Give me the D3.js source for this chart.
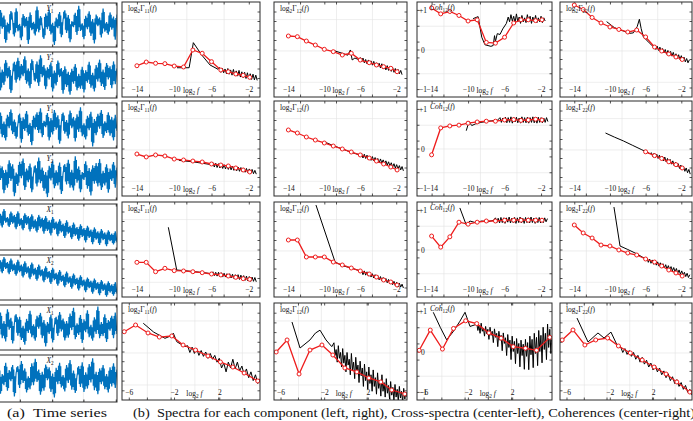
<!DOCTYPE html>
<html>
<head>
<meta charset="utf-8">
<script src="https://cdn.jsdelivr.net/npm/d3@7"></script>
<style>
body { margin: 0; background: #fff; }
svg { display: block; }
text { font-family: "Liberation Serif", "DejaVu Serif", serif; fill: #111; }
</style>
</head>
<body>
<div id="vis-container"></div>
<script>

const width = 693,
    height = 421;

// ---- time series (a) ----
const tsLabels = [["Y","1"],["Y","2"],["Y","1"],["Y","2"],["X","1"],["X","2"],["X","1"],["X","2"]];
const ts1 = [0.3,-0.62,0.71,-0.18,0.45,-0.85,0.12,-0.4,0.66,0.2,-0.55,0.8,-0.3,0.05,-0.72,0.52,-0.12,0.38,-0.9,0.6,-0.25,0.15,-0.5,0.88,-0.35,0.42,-0.08,-0.66,0.55,-0.2,0.74,-0.45,0.1,-0.95,0.35,-0.15,0.62,-0.58,0.25,0.7,-0.38,0.48,-0.82,0.18,-0.1,0.58,-0.48,0.92,-0.28,0.08,-0.68,0.44,-0.2,0.65,-0.52,0.28,-0.88,0.5,-0.05,0.36,-0.6,0.78,-0.32,0.14,-0.46,0.6,-0.22,0.4,-0.7,0.5];
const ts2 = [-0.2,0.55,-0.7,0.25,-0.45,0.68,-0.15,0.4,-0.82,0.1,0.6,-0.35,0.78,-0.25,0.5,-0.05,0.85,-0.4,0.3,-0.6,0.72,0.15,-0.3,0.62,-0.5,0.9,-0.1,0.45,-0.65,0.35,-0.2,0.58,-0.75,0.2,-0.48,0.66,-0.1,0.32,-0.85,0.4,-0.55,0.15,-0.9,0.28,-0.4,0.5,-0.7,0.05,-0.62,0.38,-0.8,0.22,-0.35,0.6,-0.58,0.1,-0.75,0.45,-0.3,0.7,-0.5,0.25,-0.68,0.55,-0.2,0.4,-0.6,0.62,-0.42,0.3];
const ts3 = [0.42,-0.3,0.6,-0.55,0.18,-0.7,0.5,-0.12,0.75,-0.4,0.28,-0.62,0.05,0.55,-0.8,0.38,-0.25,0.68,-0.48,0.12,-0.92,0.45,-0.18,0.62,-0.35,0.8,-0.55,0.22,-0.08,0.58,-0.7,0.35,-0.42,0.72,-0.2,0.48,-0.85,0.15,0.6,-0.38,0.25,-0.6,0.7,-0.12,0.4,-0.75,0.52,-0.3,0.85,-0.5,0.1,-0.65,0.45,-0.22,0.64,-0.98,0.3,-0.45,0.55,-0.15,0.72,-0.58,0.2,-0.35,0.62,-0.48,0.4,-0.7,0.5,-0.25];
const ts4 = [-0.35,0.6,-0.15,0.45,-0.75,0.3,-0.5,0.72,-0.2,0.55,-0.88,0.18,-0.42,0.66,-0.08,0.8,-0.6,0.35,-0.25,0.58,-0.7,0.12,0.5,-0.45,0.85,-0.3,0.4,-0.65,0.2,-0.92,0.48,-0.18,0.7,-0.52,0.28,-0.4,0.62,-0.78,0.15,0.55,-0.35,0.75,-0.5,0.3,-0.62,0.9,-0.28,0.45,-0.7,0.2,-0.15,0.68,-0.55,0.38,-0.85,0.5,-0.32,0.6,-0.45,0.78,-0.6,0.25,-0.4,0.55,-0.72,0.35,-0.2,0.65,-0.5,0.4];
const ts5 = [0.75,0.1,0.6,-0.02,0.82,0.2,0.45,0.0,0.7,0.15,0.55,-0.1,0.72,0.05,0.4,-0.15,0.62,0.1,0.5,-0.2,0.58,-0.08,0.35,-0.25,0.55,-0.05,0.42,-0.3,0.5,-0.18,0.3,-0.38,0.45,-0.12,0.25,-0.42,0.35,-0.25,0.15,-0.5,0.3,-0.3,0.05,-0.55,0.2,-0.4,0.0,-0.62,0.12,-0.45,-0.05,-0.7,0.05,-0.5,-0.12,-0.78,-0.02,-0.58,-0.2,-0.82,-0.1,-0.6,-0.25,-0.88,-0.15,-0.65,-0.3,-0.8,-0.2,-0.7];
const ts6 = [1.0,0.35,0.8,0.2,0.95,0.4,0.72,0.15,0.88,0.3,0.65,0.08,0.82,0.25,0.6,0.0,0.75,0.18,0.52,-0.08,0.7,0.1,0.45,-0.15,0.6,0.05,0.38,-0.22,0.52,-0.05,0.3,-0.3,0.45,-0.12,0.22,-0.38,0.35,-0.2,0.12,-0.45,0.28,-0.28,0.05,-0.52,0.18,-0.35,-0.02,-0.6,0.1,-0.42,-0.1,-0.68,0.0,-0.5,-0.15,-0.75,-0.05,-0.58,-0.22,-0.82,-0.12,-0.62,-0.28,-0.9,-0.18,-0.7,-0.32,-0.85,-0.22,-0.75];
const ts7 = [0.55,-0.2,0.7,-0.5,0.3,-0.65,0.85,-0.1,0.45,-0.75,0.2,0.62,-0.38,0.5,-0.58,0.08,-0.8,0.4,-0.25,0.78,-0.45,0.15,-0.62,0.55,-0.05,0.68,-0.5,0.35,-0.88,0.25,-0.3,0.6,-0.7,0.1,0.5,-0.4,0.72,-0.18,0.42,-0.6,0.3,-0.48,0.65,-0.12,0.92,-0.55,0.2,-0.35,0.58,-0.72,0.38,-0.22,0.8,-0.45,0.12,-0.62,0.48,-0.3,0.98,-0.5,0.25,-0.4,0.62,-0.68,0.35,-0.15,0.55,-0.5,0.7,-0.3];
const ts8 = [-0.4,0.52,-0.68,0.2,-0.3,0.7,-0.55,0.38,-0.12,0.6,-0.8,0.25,0.55,-0.42,0.78,-0.2,0.45,-0.62,0.1,-0.48,0.68,-0.3,0.88,-0.15,0.4,-0.72,0.3,-0.55,0.62,-0.08,0.5,-0.6,0.22,-0.85,0.48,-0.25,0.7,-0.4,0.15,-0.58,0.6,-0.2,0.82,-0.5,0.35,-0.65,0.12,0.55,-0.38,0.72,-0.6,0.28,-0.45,0.65,-0.18,0.9,-0.52,0.3,-0.7,0.45,-0.25,0.6,-0.48,0.2,-0.62,0.5,-0.35,0.68,-0.42,0.4];
const tsGrid = [0.19, 0.46, 0.72];

// ---- spectra (b) ----
// log2 f axis, rows 1-3 and row 4
const redXA = [-14,-13,-12,-11,-10,-9,-8,-7,-6,-5,-4.2,-3.4,-2.6,-1.9];
const redXB = [-6.4,-5.4,-4.3,-3.3,-2.2,-1.2,-0.1,1.0,2.1,3.2,4.2,5.4];
const tickLabA = [-14,-10,-6,-2];
const gridXA = [-12.7,-8.7,-4.7];
const tickLabB = [-6,-2,2];
const gridXB = [-4.4,-2.3,-0.2,1.9,4.0];
const gridYLog = [1.6,4.9,8.2];
const gridYCoh = [-0.6,0,0.6];
const cohLabels = [1,0,-1];

// row 1
const r1c1Red = [3.29,3.68,3.55,3.51,3.26,3.16,4.95,4.6,3.72,2.84,2.66,2.42,2.28,2.07];
const r1c1Black = [[-9.7,3.08],[-8.4,3.08],[-7.95,5.72],[-7.05,4.42],[-6.16,3.37],[-5.3,2.92],[-5.15,3.1],[-5.0,2.6],[-4.85,3.05],[-4.7,2.55],[-4.55,2.95],[-4.4,2.45],[-4.25,3.0],[-4.1,2.4],[-3.95,2.85],[-3.8,2.3],[-3.65,2.9],[-3.5,2.25],[-3.35,2.75],[-3.2,2.2],[-3.05,2.8],[-2.9,2.1],[-2.75,2.65],[-2.6,2.05],[-2.45,2.6],[-2.3,1.95],[-2.15,2.55],[-2.0,1.9],[-1.85,2.45],[-1.7,1.85],[-1.55,2.4],[-1.4,1.8],[-1.25,2.3],[-1.1,1.75]];
const r1c2Red = [6.42,6.35,5.89,5.47,5.02,4.77,4.42,4.6,3.89,3.61,3.37,3.19,3.02,2.66];
const r1c2Black = [[-9.0,4.9],[-8.0,4.6],[-7.4,4.4],[-7.1,4.95],[-6.9,3.9],[-6.6,4.1],[-6.2,3.95],[-6.0,4.15],[-5.85,3.7],[-5.7,4.1],[-5.55,3.6],[-5.4,3.95],[-5.25,3.5],[-5.1,3.9],[-4.95,3.45],[-4.8,3.8],[-4.65,3.35],[-4.5,3.75],[-4.35,3.25],[-4.2,3.6],[-4.05,3.2],[-3.9,3.55],[-3.75,3.05],[-3.6,3.5],[-3.45,2.95],[-3.3,3.35],[-3.15,2.85],[-3.0,3.3],[-2.85,2.8],[-2.7,3.2],[-2.55,2.7],[-2.4,3.1],[-2.25,2.6],[-2.1,3.0],[-1.95,2.5],[-1.8,2.9],[-1.65,2.45],[-1.5,2.8],[-1.35,2.35]];
const r1c3Red = [1.05,0.9,0.96,0.86,0.72,0.75,0.18,0.16,0.31,0.67,0.75,0.75,0.73,0.75];
const r1c3Black = [[-9.45,0.78],[-8.9,0.83],[-8.5,0.31],[-8.15,0.12],[-7.5,0.08],[-7.25,0.1],[-7.1,0.35],[-7.0,0.2],[-6.8,0.4],[-6.5,0.38],[-6.2,0.52],[-5.8,0.66],[-5.6,0.82],[-5.45,0.7],[-5.3,0.88],[-5.15,0.72],[-5.0,0.84],[-4.85,0.68],[-4.7,0.9],[-4.55,0.7],[-4.4,0.82],[-4.25,0.66],[-4.1,0.86],[-3.95,0.7],[-3.8,0.8],[-3.65,0.68],[-3.5,0.88],[-3.35,0.72],[-3.2,0.84],[-3.05,0.66],[-2.9,0.82],[-2.75,0.7],[-2.6,0.86],[-2.45,0.68],[-2.3,0.8],[-2.15,0.7],[-2.0,0.84],[-1.85,0.68],[-1.7,0.8],[-1.55,0.72]];
const r1c4Red = [9.68,9.21,8.37,7.79,7.37,7.11,6.84,7.05,6.32,5.26,4.84,4.53,4.21,3.95];
const r1c4Black = [[-10.37,7.93],[-9.5,7.3],[-8.5,6.95],[-7.8,6.7],[-7.38,6.75],[-6.95,7.4],[-6.7,8.18],[-6.5,7.2],[-6.26,6.35],[-5.6,5.7],[-5.14,5.3],[-5.0,5.45],[-4.85,5.0],[-4.7,5.35],[-4.55,4.9],[-4.4,5.25],[-4.25,4.75],[-4.1,5.1],[-3.95,4.65],[-3.8,5.0],[-3.65,4.5],[-3.5,4.9],[-3.35,4.4],[-3.2,4.8],[-3.05,4.3],[-2.9,4.7],[-2.75,4.2],[-2.6,4.55],[-2.45,4.05],[-2.3,4.45],[-2.15,3.95],[-2.0,4.35],[-1.85,3.85],[-1.7,4.2],[-1.55,3.7],[-1.4,4.05],[-1.25,3.6],[-1.1,3.9]];

// row 2
const r2c1Red = [4.42,4.11,4.32,4.21,3.89,3.79,3.68,3.58,3.37,3.26,3.16,2.95,2.74,2.53];
const r2c1Black = [[-9.5,3.75],[-8,3.6],[-7,3.45],[-6,3.3],[-5.85,3.5],[-5.7,3.05],[-5.55,3.45],[-5.4,3.0],[-5.25,3.4],[-5.1,2.95],[-4.95,3.35],[-4.8,2.9],[-4.65,3.3],[-4.5,2.85],[-4.35,3.25],[-4.2,2.8],[-4.05,3.2],[-3.9,2.75],[-3.75,3.15],[-3.6,2.7],[-3.45,3.1],[-3.3,2.65],[-3.15,3.05],[-3.0,2.6],[-2.85,3.0],[-2.7,2.55],[-2.55,2.95],[-2.4,2.5],[-2.25,2.9],[-2.1,2.45],[-1.95,2.85],[-1.8,2.4],[-1.65,2.8],[-1.5,2.35],[-1.35,2.7],[-1.2,2.3]];
const r2c2Red = [6.95,6.63,6.21,5.89,5.58,5.26,4.95,4.63,4.32,4.0,3.68,3.37,3.05,2.74];
const r2c2Black = [[-10,5.7],[-9,5.3],[-8,4.95],[-7,4.6],[-6,4.3],[-5.85,4.45],[-5.7,4.0],[-5.55,4.4],[-5.4,3.95],[-5.25,4.3],[-5.1,3.85],[-4.95,4.2],[-4.8,3.75],[-4.65,4.15],[-4.5,3.7],[-4.35,4.05],[-4.2,3.6],[-4.05,3.95],[-3.9,3.5],[-3.75,3.9],[-3.6,3.45],[-3.45,3.8],[-3.3,3.35],[-3.15,3.7],[-3.0,3.25],[-2.85,3.6],[-2.7,3.15],[-2.55,3.5],[-2.4,3.05],[-2.25,3.4],[-2.1,2.95],[-1.95,3.3],[-1.8,2.85],[-1.65,3.2],[-1.5,2.75],[-1.35,3.1],[-1.2,2.65]];
const r2c3Red = [-0.16,0.52,0.57,0.59,0.64,0.67,0.69,0.69,0.72,0.73,0.71,0.72,0.74,0.72];
const r2c3Black = [[-10.2,0.45],[-9.9,0.68],[-9.6,0.58],[-9.2,0.62],[-8.6,0.66],[-8,0.68],[-7.4,0.7],[-6.8,0.71],[-6.5,0.78],[-6.35,0.66],[-6.2,0.77],[-6.05,0.67],[-5.9,0.79],[-5.75,0.65],[-5.6,0.78],[-5.45,0.66],[-5.3,0.8],[-5.15,0.64],[-5.0,0.78],[-4.85,0.67],[-4.7,0.79],[-4.55,0.65],[-4.4,0.77],[-4.25,0.64],[-4.1,0.8],[-3.95,0.66],[-3.8,0.78],[-3.65,0.65],[-3.5,0.79],[-3.35,0.64],[-3.2,0.78],[-3.05,0.66],[-2.9,0.8],[-2.75,0.65],[-2.6,0.77],[-2.45,0.64],[-2.3,0.79],[-2.15,0.66],[-2.0,0.78],[-1.85,0.65],[-1.7,0.77],[-1.55,0.66],[-1.4,0.78],[-1.25,0.68]];
const r2c4Red = [null,null,null,null,null,null,null,null,4.65,4.25,3.95,3.6,3.3,2.95];
const r2c4Black = [[-10.5,6.63],[-9.5,6.2],[-8.5,5.8],[-7.5,5.35],[-6.5,4.9],[-5.5,4.45],[-5.35,4.55],[-5.2,4.15],[-5.05,4.5],[-4.9,4.05],[-4.75,4.4],[-4.6,3.95],[-4.45,4.3],[-4.3,3.85],[-4.15,4.2],[-4.0,3.7],[-3.85,4.1],[-3.7,3.6],[-3.55,3.95],[-3.4,3.5],[-3.25,3.85],[-3.1,3.35],[-2.95,3.7],[-2.8,3.2],[-2.65,3.55],[-2.5,3.05],[-2.35,3.4],[-2.2,2.9],[-2.05,3.25],[-1.9,2.75],[-1.75,3.1],[-1.6,2.6],[-1.45,2.95],[-1.3,2.45],[-1.15,2.8],[-1.0,2.3]];

// row 3
const r3c1Red = [3.65,3.65,2.66,3.02,2.77,2.74,2.66,2.56,2.42,2.32,2.21,2.07,1.93,1.86];
const r3c1Black = [[-10.63,7.34],[-9.73,2.84],[-9,2.78],[-8,2.68],[-7,2.58],[-6,2.45],[-5.85,2.65],[-5.7,2.25],[-5.55,2.6],[-5.4,2.2],[-5.25,2.6],[-5.1,2.15],[-4.95,2.55],[-4.8,2.1],[-4.65,2.5],[-4.5,2.1],[-4.35,2.45],[-4.2,2.05],[-4.05,2.45],[-3.9,2.0],[-3.75,2.4],[-3.6,1.95],[-3.45,2.35],[-3.3,1.9],[-3.15,2.35],[-3.0,1.85],[-2.85,2.3],[-2.7,1.8],[-2.55,2.25],[-2.4,1.75],[-2.25,2.2],[-2.1,1.7],[-1.95,2.15],[-1.8,1.65],[-1.65,2.1],[-1.5,1.65],[-1.35,2.05],[-1.2,1.6]];
const r3c2Red = [6.0,6.0,4.21,4.21,4.21,3.68,3.37,3.05,2.74,2.42,2.1,1.79,1.58,1.26];
const r3c2Black = [[-10.93,9.68],[-8.8,3.68],[-8,3.3],[-7,3.05],[-6,2.74],[-5.85,2.8],[-5.7,2.35],[-5.55,2.75],[-5.4,2.3],[-5.25,2.65],[-5.1,2.2],[-4.95,2.55],[-4.8,2.1],[-4.65,2.45],[-4.5,2.0],[-4.35,2.35],[-4.2,1.9],[-4.05,2.25],[-3.9,1.8],[-3.75,2.15],[-3.6,1.7],[-3.45,2.05],[-3.3,1.6],[-3.15,1.95],[-3.0,1.5],[-2.85,1.85],[-2.7,1.4],[-2.55,1.75],[-2.4,1.3],[-2.25,1.65],[-2.1,1.2],[-1.95,1.55],[-1.8,1.1],[-1.65,1.45],[-1.5,1.05],[-1.35,1.35],[-1.2,0.95]];
const r3c3Red = [0.34,0.06,0.32,0.69,0.64,0.69,0.72,0.72,0.74,0.74,0.74,0.74,0.74,0.74];
const r3c3Black = [[-10.9,1.05],[-10.2,0.62],[-9.8,0.72],[-9.2,0.68],[-8.5,0.72],[-7.8,0.7],[-7.2,0.74],[-7.0,0.8],[-6.85,0.68],[-6.7,0.79],[-6.55,0.67],[-6.4,0.81],[-6.25,0.68],[-6.1,0.8],[-5.95,0.66],[-5.8,0.8],[-5.65,0.69],[-5.5,0.82],[-5.35,0.67],[-5.2,0.79],[-5.05,0.68],[-4.9,0.81],[-4.75,0.66],[-4.6,0.8],[-4.45,0.68],[-4.3,0.82],[-4.15,0.67],[-4.0,0.79],[-3.85,0.66],[-3.7,0.81],[-3.55,0.68],[-3.4,0.8],[-3.25,0.67],[-3.1,0.82],[-2.95,0.68],[-2.8,0.79],[-2.65,0.66],[-2.5,0.8],[-2.35,0.68],[-2.2,0.81],[-2.05,0.67],[-1.9,0.79],[-1.75,0.68],[-1.6,0.8],[-1.45,0.7],[-1.3,0.78]];
const r3c4Red = [7.58,6.74,6.21,5.47,5.37,4.95,4.63,4.42,4.0,3.68,3.26,2.84,2.53,2.21];
const r3c4Black = [[-9.55,9.47],[-8.87,5.37],[-8,5.0],[-7,4.55],[-6,4.0],[-5.85,4.1],[-5.7,3.65],[-5.55,4.0],[-5.4,3.55],[-5.25,3.9],[-5.1,3.45],[-4.95,3.8],[-4.8,3.35],[-4.65,3.7],[-4.5,3.25],[-4.35,3.6],[-4.2,3.15],[-4.05,3.5],[-3.9,3.05],[-3.75,3.4],[-3.6,2.95],[-3.45,3.3],[-3.3,2.85],[-3.15,3.2],[-3.0,2.75],[-2.85,3.1],[-2.7,2.65],[-2.55,3.0],[-2.4,2.5],[-2.25,2.85],[-2.1,2.4],[-1.95,2.75],[-1.8,2.3],[-1.65,2.6],[-1.5,2.15],[-1.35,2.5],[-1.2,2.05],[-1.05,2.35]];

// row 4
const r4c1Red = [7.04,7.73,6.91,6.49,6.6,5.67,5.15,4.54,3.92,3.4,2.78,1.96];
const r4c1Black = [[-4.72,7.91],[-3.8,7.0],[-2.8,6.36],[-2.3,6.6],[-2.06,6.88],[-1.76,6.01],[-1.03,5.5],[-0.8,5.6],[-0.6,4.9],[-0.4,5.45],[-0.2,4.8],[0.0,5.3],[0.2,4.6],[0.4,5.1],[0.6,4.5],[0.8,4.95],[1.0,4.3],[1.2,4.8],[1.4,4.2],[1.6,4.6],[1.8,3.9],[2.0,4.3],[2.2,3.3],[2.4,3.8],[2.6,2.9],[2.8,3.9],[3.0,3.3],[3.2,4.2],[3.4,3.2],[3.6,3.9],[3.8,3.0],[4.0,3.5],[4.2,2.6],[4.4,3.2],[4.6,2.3],[4.8,2.9],[5.0,2.0],[5.2,2.6],[5.4,1.7],[5.6,2.2]];
const r4c2Red = [4.95,6.19,2.68,5.15,5.67,4.64,3.3,2.89,2.27,1.86,1.03,0.62];
const r4c2Black = [[-4.95,8.04],[-4.21,5.36],[-3.3,6.19],[-2.8,6.9],[-2.38,7.2],[-1.83,6.19],[-1.3,5.5],[-1.1,5.9],[-1.0,4.6],[-0.9,5.2],[-0.8,3.9],[-0.7,5.6],[-0.6,4.3],[-0.5,4.9],[-0.4,3.4],[-0.3,5.3],[-0.2,3.8],[-0.1,4.6],[0.0,2.9],[0.1,4.9],[0.2,3.6],[0.3,4.2],[0.4,2.6],[0.5,4.8],[0.6,3.1],[0.7,3.9],[0.8,2.2],[0.9,4.4],[1.0,2.8],[1.1,3.6],[1.2,1.8],[1.3,4.0],[1.4,2.5],[1.5,3.3],[1.6,1.4],[1.7,3.7],[1.8,2.0],[1.9,2.9],[2.0,1.1],[2.1,3.4],[2.2,1.7],[2.3,2.6],[2.4,0.9],[2.5,3.1],[2.6,1.4],[2.7,2.3],[2.8,0.6],[2.9,2.8],[3.0,1.2],[3.1,2.0],[3.2,0.4],[3.3,2.6],[3.4,0.9],[3.5,1.8],[3.6,0.3],[3.7,2.2],[3.8,0.7],[3.9,1.5],[4.0,0.1],[4.1,1.9],[4.2,0.5],[4.3,1.3],[4.4,0.0],[4.5,1.6],[4.6,0.3],[4.7,1.1],[4.8,-0.1],[4.9,1.4],[5.0,0.2],[5.1,0.9],[5.2,-0.2],[5.3,1.2],[5.4,0.1],[5.5,0.8],[5.6,0.3]];
const r4c3Red = [0.03,0.53,0.06,0.57,0.76,0.69,0.46,0.33,0.12,0.08,0.03,0.35];
const r4c3Black = [[-5.13,0.97],[-4.5,0.6],[-3.92,0.29],[-3.3,0.5],[-2.72,0.75],[-2.26,0.97],[-1.81,0.62],[-1.36,0.66],[-1.2,0.7],[-1.1,0.52],[-1.0,0.64],[-0.9,0.45],[-0.8,0.7],[-0.7,0.5],[-0.6,0.58],[-0.5,0.38],[-0.4,0.62],[-0.3,0.44],[-0.2,0.55],[-0.1,0.3],[0.0,0.6],[0.1,0.4],[0.2,0.5],[0.3,0.22],[0.4,0.56],[0.5,0.35],[0.6,0.45],[0.7,0.12],[0.8,0.5],[0.9,0.28],[1.0,0.4],[1.1,0.02],[1.2,0.46],[1.3,0.2],[1.4,0.34],[1.5,-0.1],[1.6,0.42],[1.7,0.1],[1.8,0.28],[1.9,-0.2],[2.0,0.38],[2.1,0.0],[2.2,0.25],[2.3,-0.3],[2.4,0.32],[2.5,-0.05],[2.6,0.2],[2.7,-0.38],[2.8,0.28],[2.9,-0.1],[3.0,0.18],[3.1,-0.44],[3.2,0.3],[3.3,-0.12],[3.4,0.22],[3.5,-0.45],[3.6,0.38],[3.7,-0.08],[3.8,0.3],[3.9,-0.4],[4.0,0.45],[4.1,-0.05],[4.2,0.35],[4.3,-0.35],[4.4,0.52],[4.5,0.0],[4.6,0.4],[4.7,-0.28],[4.8,0.6],[4.9,0.05],[5.0,0.45],[5.1,-0.2],[5.2,0.68],[5.3,0.1],[5.4,0.55],[5.5,-0.05],[5.55,0.3]];
const r4c4Red = [6.19,7.22,5.67,6.19,6.39,5.57,4.85,4.12,3.4,2.68,1.86,0.82];
const r4c4Black = [[-5.03,8.45],[-4.01,5.98],[-3.09,6.91],[-2.53,6.39],[-1.89,7.0],[-1.24,5.46],[-1.0,5.5],[-0.8,4.9],[-0.6,5.3],[-0.4,4.7],[-0.2,5.1],[0.0,4.5],[0.2,4.9],[0.4,4.2],[0.6,4.6],[0.8,3.9],[1.0,4.4],[1.2,3.7],[1.4,4.1],[1.6,3.4],[1.8,3.8],[2.0,3.1],[2.2,3.6],[2.4,2.9],[2.6,3.3],[2.8,2.6],[3.0,3.0],[3.2,2.3],[3.4,2.7],[3.6,2.0],[3.8,2.4],[4.0,1.7],[4.2,2.1],[4.4,1.4],[4.6,1.8],[4.8,1.1],[5.0,1.5],[5.2,0.8],[5.4,1.1],[5.6,0.5]];

// ---- layout ----
const colX = [122, 274, 417, 560],
    colW = [138, 133, 135, 132];
const rowY = [2, 101, 202, 303],
    rowH = [95, 95, 95, 97];
const tsTop = [3, 52, 103, 153, 204, 255, 305, 355],
    tsH = [44, 46, 45, 47, 46, 45, 45, 47];

const blue = "#0072bd", red = "#ee1c1c", gridCol = "#e3e3e3", frame = "#2a2a2a";

const svg = d3.select("#vis-container").append("svg")
    .attr("width", width)
    .attr("height", height);

const defs = svg.append("defs");
let clipId = 0;

// text with subscripts / italics, parts: strings, {sub}, {it}
function mathText(sel, x, y, parts, fs, anchor) {
  const t = sel.append("text").attr("x", x).attr("y", y)
      .attr("font-size", fs).attr("text-anchor", anchor || "start");
  let cur = 0;
  parts.forEach(p => {
    const want = (typeof p === "object" && p.sub) ? fs * 0.3 : 0;
    const s = t.append("tspan");
    if (want !== cur) s.attr("dy", want - cur);
    cur = want;
    if (typeof p === "string") s.text(p);
    else if (p.sub) s.attr("font-size", fs * 0.7).text(p.sub);
    else if (p.it) s.attr("font-style", "italic").text(p.it);
  });
  return t;
}

function addClip(x, y, w, h) {
  const id = "clip" + (clipId++);
  defs.append("clipPath").attr("id", id)
    .append("rect").attr("x", x).attr("y", y).attr("width", w).attr("height", h);
  return "url(#" + id + ")";
}

// ---- time series panels ----
const tsData = [ts1, ts2, ts3, ts4, ts5, ts6, ts7, ts8];
tsData.forEach((vals, i) => {
  const top = tsTop[i], h = tsH[i];
  const x = d3.scaleLinear().domain([0, 1]).range([-3, 117]);
  const y = d3.scaleLinear().domain([-1.05, 1.05]).range([top + h, top]);
  const g = svg.append("g");
  const clip = addClip(-3, top, 120, h);

  g.append("g").selectAll("line").data(tsGrid).join("line")
    .attr("x1", d => x(d)).attr("x2", d => x(d))
    .attr("y1", top).attr("y2", top + h)
    .attr("stroke", gridCol).attr("stroke-width", 0.6);

  // dense core of the signal: pairs of successive samples
  const pairs = d3.pairs(vals).map(([a, b], j) => ({
    t: (j + 0.5) / (vals.length - 1),
    m: (a + b) / 2,
    s: Math.abs(a - b) / 2
  }));
  g.append("path").datum(pairs)
    .attr("clip-path", clip)
    .attr("d", d3.area().curve(d3.curveStep)
      .x(d => x(d.t))
      .y0(d => y(d.m - 0.72 * d.s))
      .y1(d => y(d.m + 0.72 * d.s)))
    .attr("fill", blue);

  const line = d3.line()
      .x((d, j) => x(j / (vals.length - 1)))
      .y(d => y(d));
  g.append("path").datum(vals)
    .attr("d", line)
    .attr("clip-path", clip)
    .attr("fill", "none").attr("stroke", blue).attr("stroke-width", 1.2);

  // tick marks
  g.append("g").attr("transform", `translate(0,${top + h})`)
    .call(d3.axisBottom(x).tickValues(tsGrid.concat([0.99])).tickSize(-2.5).tickFormat(""))
    .call(a => a.select(".domain").remove())
    .selectAll("line").attr("stroke", frame);
  g.append("g").attr("transform", `translate(0,${top})`)
    .call(d3.axisTop(x).tickValues(tsGrid.concat([0.99])).tickSize(-2.5).tickFormat(""))
    .call(a => a.select(".domain").remove())
    .selectAll("line").attr("stroke", frame);

  g.append("rect").attr("x", -5).attr("y", top).attr("width", 122).attr("height", h)
    .attr("fill", "none").attr("stroke", frame).attr("stroke-width", 1);

  const lab = tsLabels[i];
  mathText(g, 50, top + 8, [{it: lab[0]}, {sub: lab[1]}], 7.5, "middle");
});

// ---- spectra panels ----
const cols = [
  {kind: "log", label: ["log", {sub: "2"}, "Γ", {sub: "11"}, "(", {it: "f"}, ")"]},
  {kind: "log", label: ["log", {sub: "2"}, "Γ", {sub: "12"}, "(", {it: "f"}, ")"]},
  {kind: "coh", label: [{it: "Coh"}, {sub: "12"}, "(", {it: "f"}, ")"]},
  {kind: "log", label: ["log", {sub: "2"}, "Γ", {sub: "22"}, "(", {it: "f"}, ")"]}
];
const panelRed = [
  [r1c1Red, r1c2Red, r1c3Red, r1c4Red],
  [r2c1Red, r2c2Red, r2c3Red, r2c4Red],
  [r3c1Red, r3c2Red, r3c3Red, r3c4Red],
  [r4c1Red, r4c2Red, r4c3Red, r4c4Red]
];
const panelBlack = [
  [r1c1Black, r1c2Black, r1c3Black, r1c4Black],
  [r2c1Black, r2c2Black, r2c3Black, r2c4Black],
  [r3c1Black, r3c2Black, r3c3Black, r3c4Black],
  [r4c1Black, r4c2Black, r4c3Black, r4c4Black]
];

for (let r = 0; r < 4; r++) {
  for (let c = 0; c < 4; c++) {
    const x0 = colX[c], w = colW[c], y0 = rowY[r], h = rowH[r];
    const low = r === 3;
    const coh = cols[c].kind === "coh";
    const x = d3.scaleLinear().domain(low ? [-6.6, 5.6] : [-15.6, -0.8]).range([x0, x0 + w]);
    const y = d3.scaleLinear().domain(coh ? [-1.2, 1.2] : [0, 10]).range([y0 + h, y0]);
    const g = svg.append("g");

    const gx = low ? gridXB : gridXA;
    const gy = coh ? gridYCoh : gridYLog;

    // grid
    g.append("g").attr("transform", `translate(0,${y0 + h})`)
      .call(d3.axisBottom(x).tickValues(gx).tickSize(-h).tickFormat(""))
      .call(a => a.select(".domain").remove())
      .selectAll("line").attr("stroke", gridCol).attr("stroke-width", 0.6);
    g.append("g").attr("transform", `translate(${x0},0)`)
      .call(d3.axisLeft(y).tickValues(gy).tickSize(-w).tickFormat(""))
      .call(a => a.select(".domain").remove())
      .selectAll("line").attr("stroke", gridCol).attr("stroke-width", 0.6);

    // tick marks on all sides
    const xt = gx.concat(low ? tickLabB : tickLabA);
    const yt = coh ? [-1, -0.6, -0.2, 0, 0.2, 0.6, 1] : [1, 2, 3, 4, 5, 6, 7, 8, 9];
    [[d3.axisBottom(x).tickValues(xt), `translate(0,${y0 + h})`],
     [d3.axisTop(x).tickValues(xt), `translate(0,${y0})`],
     [d3.axisLeft(y).tickValues(yt), `translate(${x0},0)`],
     [d3.axisRight(y).tickValues(yt), `translate(${x0 + w},0)`]].forEach(([ax, tr]) => {
      g.append("g").attr("transform", tr)
        .call(ax.tickSize(-2.5).tickFormat(""))
        .call(a => a.select(".domain").remove())
        .selectAll("line").attr("stroke", frame).attr("stroke-width", 0.8);
    });

    const clip = addClip(x0, y0, w, h);

    // black estimate
    g.append("path").datum(panelBlack[r][c])
      .attr("clip-path", clip)
      .attr("d", d3.line().x(d => x(d[0])).y(d => y(d[1])))
      .attr("fill", "none").attr("stroke", "#000").attr("stroke-width", 1);

    // red estimate with markers
    const rx = low ? redXB : redXA;
    const pts = panelRed[r][c].map((v, i) => [rx[i], v]).filter(d => d[1] !== null);
    g.append("path").datum(pts)
      .attr("clip-path", clip)
      .attr("d", d3.line().x(d => x(d[0])).y(d => y(d[1])))
      .attr("fill", "none").attr("stroke", red).attr("stroke-width", 1.3);
    g.append("g").attr("clip-path", clip).selectAll("circle").data(pts).join("circle")
      .attr("cx", d => x(d[0])).attr("cy", d => y(d[1])).attr("r", 2)
      .attr("fill", "#fff").attr("stroke", red).attr("stroke-width", 1);

    // x tick labels inside, at the bottom
    g.append("g").attr("transform", `translate(0,${y0 + h})`)
      .call(d3.axisBottom(x).tickValues(low ? tickLabB : tickLabA).tickSize(0).tickPadding(-10))
      .call(a => a.select(".domain").remove())
      .selectAll("text")
        .attr("font-size", 7.5)
        .attr("font-family", "Liberation Serif, serif")
        .attr("fill", "#111");

    mathText(g, x(low ? -0.2 : -8.2), y0 + h - 4.5,
      ["log", {sub: "2"}, " ", {it: "f"}], 7.5, "middle");

    // coherence y labels
    if (coh) {
      cohLabels.forEach(v => {
        g.append("text")
          .attr("x", v === 0 ? x0 + 4 : x0 + 2)
          .attr("y", y(v) + 3)
          .attr("font-size", 7.5)
          .text(v > 0 ? "+1" : v < 0 ? "\u22121" : "0");
      });
    }

    // panel label
    mathText(g, coh ? x0 + 13 : x0 + 6, coh ? y0 + 8 : y0 + 9, cols[c].label, 7.5, "start");

    g.append("rect").attr("x", x0).attr("y", y0).attr("width", w).attr("height", h)
      .attr("fill", "none").attr("stroke", frame).attr("stroke-width", 1);
  }
}

// ---- captions ----
svg.append("text").attr("x", 7).attr("y", 417).attr("font-size", 13)
  .attr("textLength", 100).attr("lengthAdjust", "spacingAndGlyphs")
  .text("(a)\u00a0\u00a0Time series");
svg.append("text").attr("x", 133).attr("y", 417).attr("font-size", 13)
  .attr("textLength", 562).attr("lengthAdjust", "spacingAndGlyphs")
  .text("(b)\u00a0\u00a0Spectra for each component (left, right), Cross-spectra (center-left), Coherences (center-right)");

</script>
</body>
</html>
